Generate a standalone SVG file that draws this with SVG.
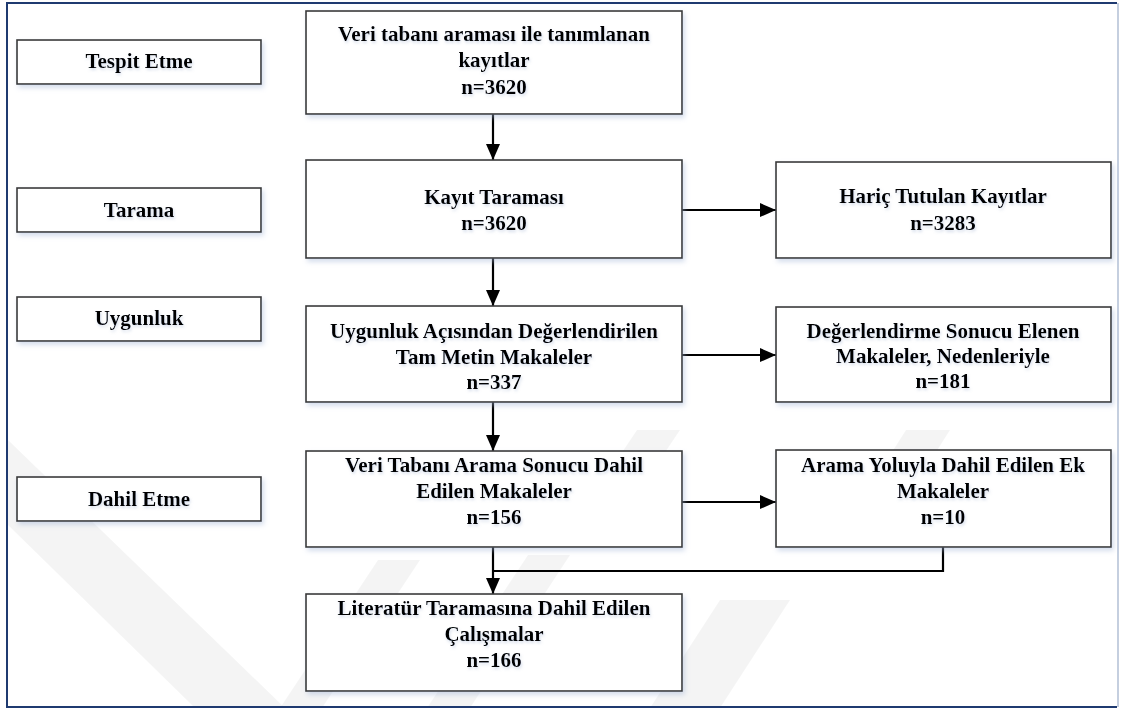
<svg xmlns="http://www.w3.org/2000/svg" width="1121" height="709" viewBox="0 0 1121 709">
  <defs>
    <marker id="arrow" markerUnits="userSpaceOnUse" markerWidth="16" markerHeight="14" viewBox="0 0 16 14" refX="16" refY="7" orient="auto">
      <path d="M0,0 L16,7 L0,14 Z" fill="#000"/>
    </marker>
    <filter id="shadow" x="-10%" y="-20%" width="120%" height="150%">
      <feDropShadow dx="2" dy="3" stdDeviation="2.5" flood-color="#9fb4d6" flood-opacity="0.45"/>
    </filter>
    <filter id="tshadow" x="-5%" y="-30%" width="110%" height="160%">
      <feDropShadow dx="1" dy="2" stdDeviation="1.5" flood-color="#8aa0c8" flood-opacity="0.35"/>
    </filter>
  </defs>
  <style>
    .box { fill: #ffffff; stroke: #3a3a3a; stroke-width: 1.6; filter: url(#shadow); }
    .lbl { font-family: "Liberation Serif", "Times New Roman", serif; font-weight: bold; font-size: 21px; fill: #000; text-anchor: middle; filter: url(#tshadow); }
    .conn { fill: none; stroke: #000; stroke-width: 2.2; }
    .wm { fill: #000; fill-opacity: 0.045; }
  </style>

  <rect x="0" y="0" width="1121" height="709" fill="#ffffff"/>

  <g id="watermark">
    <polygon class="wm" points="8,440 8,525 195,708 285,708"/>
    <polygon class="wm" points="280,708 322,708 420,560 378,560"/>
    <polygon class="wm" points="427,708 470,708 570,555 528,555"/>
    <polygon class="wm" points="650,708 720,708 790,600 720,600"/>
    <polygon class="wm" points="560,545 603,545 680,430 637,430"/>
    <polygon class="wm" points="833,545 877,545 950,430 906,430"/>
  </g>

  <g id="frame">
    <path d="M1117,3 L7,3 L7,707 L1117,707" fill="none" stroke="#1f3a70" stroke-width="2"/>
    <line x1="1118" y1="3" x2="1118" y2="707" stroke="#c5cfdf" stroke-width="2"/>
  </g>

  <g id="connectors">
    <line class="conn" x1="493" y1="114" x2="493" y2="160" marker-end="url(#arrow)"/>
    <line class="conn" x1="493" y1="258" x2="493" y2="306" marker-end="url(#arrow)"/>
    <line class="conn" x1="493" y1="402" x2="493" y2="451" marker-end="url(#arrow)"/>
    <line class="conn" x1="682" y1="210" x2="776" y2="210" marker-end="url(#arrow)"/>
    <line class="conn" x1="682" y1="355" x2="776" y2="355" marker-end="url(#arrow)"/>
    <line class="conn" x1="682" y1="502" x2="776" y2="502" marker-end="url(#arrow)"/>
    <line class="conn" x1="493" y1="547" x2="493" y2="594" marker-end="url(#arrow)"/>
    <polyline class="conn" points="943,547 943,571 493,571"/>
  </g>

  <g id="tespit-etme">
    <rect class="box" x="17" y="40" width="244" height="44"/>
    <text class="lbl" x="139" y="68">Tespit Etme</text>
  </g>
  <g id="tarama">
    <rect class="box" x="17" y="188" width="244" height="44"/>
    <text class="lbl" x="139" y="217">Tarama</text>
  </g>
  <g id="uygunluk">
    <rect class="box" x="17" y="297" width="244" height="44"/>
    <text class="lbl" x="139" y="325">Uygunluk</text>
  </g>
  <g id="dahil-etme">
    <rect class="box" x="17" y="477" width="244" height="44"/>
    <text class="lbl" x="139" y="506">Dahil Etme</text>
  </g>

  <g id="veri-tabani-aramasi">
    <rect class="box" x="306" y="11" width="376" height="103"/>
    <text class="lbl" x="494" y="41">Veri tabanı araması ile tanımlanan</text>
    <text class="lbl" x="494" y="67">kayıtlar</text>
    <text class="lbl" x="494" y="94">n=3620</text>
  </g>
  <g id="kayit-taramasi">
    <rect class="box" x="306" y="160" width="376" height="98"/>
    <text class="lbl" x="494" y="204">Kayıt Taraması</text>
    <text class="lbl" x="494" y="230">n=3620</text>
  </g>
  <g id="haric-tutulan">
    <rect class="box" x="776" y="162" width="335" height="96"/>
    <text class="lbl" x="943" y="203">Hariç Tutulan Kayıtlar</text>
    <text class="lbl" x="943" y="230">n=3283</text>
  </g>
  <g id="uygunluk-degerlendirilen">
    <rect class="box" x="306" y="306" width="376" height="96"/>
    <text class="lbl" x="494" y="338">Uygunluk Açısından Değerlendirilen</text>
    <text class="lbl" x="494" y="364">Tam Metin Makaleler</text>
    <text class="lbl" x="494" y="389">n=337</text>
  </g>
  <g id="degerlendirme-elenen">
    <rect class="box" x="776" y="307" width="335" height="95"/>
    <text class="lbl" x="943" y="338">Değerlendirme Sonucu Elenen</text>
    <text class="lbl" x="943" y="363">Makaleler, Nedenleriyle</text>
    <text class="lbl" x="943" y="388">n=181</text>
  </g>
  <g id="veri-tabani-dahil">
    <rect class="box" x="306" y="451" width="376" height="96"/>
    <text class="lbl" x="494" y="472">Veri Tabanı Arama Sonucu Dahil</text>
    <text class="lbl" x="494" y="498">Edilen Makaleler</text>
    <text class="lbl" x="494" y="524">n=156</text>
  </g>
  <g id="arama-yoluyla">
    <rect class="box" x="776" y="450" width="335" height="97"/>
    <text class="lbl" x="943" y="472">Arama Yoluyla Dahil Edilen Ek</text>
    <text class="lbl" x="943" y="498">Makaleler</text>
    <text class="lbl" x="943" y="524">n=10</text>
  </g>
  <g id="literatur">
    <rect class="box" x="306" y="594" width="376" height="97"/>
    <text class="lbl" x="494" y="615">Literatür Taramasına Dahil Edilen</text>
    <text class="lbl" x="494" y="641">Çalışmalar</text>
    <text class="lbl" x="494" y="667">n=166</text>
  </g>
</svg>
